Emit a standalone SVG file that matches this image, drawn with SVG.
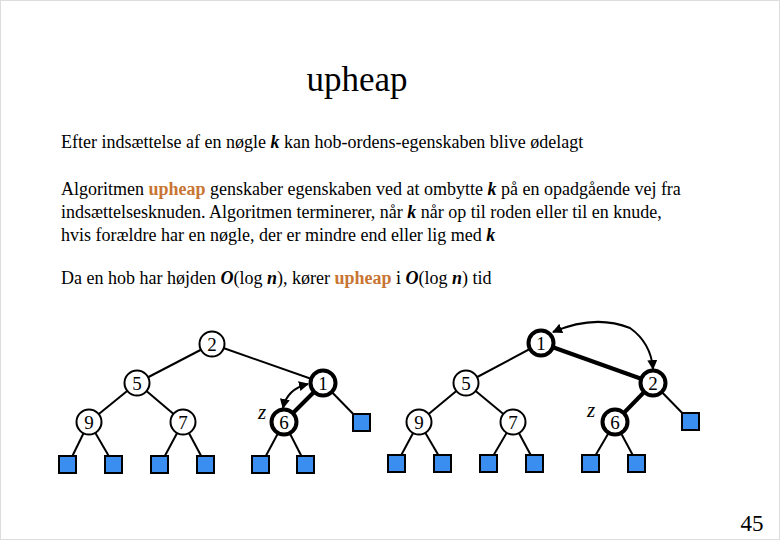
<svg xmlns="http://www.w3.org/2000/svg" width="780" height="540" viewBox="0 0 780 540">
<style>
text{font-family:"Liberation Serif","Times New Roman",serif;fill:#000}
.b{font-size:18px}
.o{fill:#c87533;font-weight:bold}
.k{font-weight:bold;font-style:italic}
.n circle{fill:#fff;stroke:#000;stroke-width:2}
.n.t circle{stroke-width:4}
.n text{font-size:19px;text-anchor:middle}
.lf{fill:#3a8ef0;stroke:#000;stroke-width:2}
.e{stroke:#000;stroke-width:2;fill:none}
.e.t{stroke-width:4}
.z{font-size:21px;font-style:italic}
</style>
<defs>
<marker id="ah" viewBox="0 0 10 10" refX="9" refY="5" markerWidth="5" markerHeight="5" orient="auto-start-reverse"><path d="M0,0 L10,5 L0,10 z" fill="#000"/></marker>
</defs>
<rect x="0.5" y="0.5" width="779" height="539" fill="#fff" stroke="#ddd"/>
<text x="357" y="91" font-size="35" text-anchor="middle">upheap</text>
<text class="b" x="61" y="148">Efter indsættelse af en nøgle <tspan class="k">k</tspan> kan hob-ordens-egenskaben blive ødelagt</text>
<text class="b" x="61" y="195">Algoritmen <tspan class="o">upheap</tspan> genskaber egenskaben ved at ombytte <tspan class="k">k</tspan> på en opadgående vej fra</text>
<text class="b" x="61" y="218">indsættelsesknuden. Algoritmen terminerer, når <tspan class="k">k</tspan> når op til roden eller til en knude,</text>
<text class="b" x="61" y="241">hvis forældre har en nøgle, der er mindre end eller lig med <tspan class="k">k</tspan></text>
<text class="b" x="61" y="284">Da en hob har højden <tspan class="k">O</tspan>(log <tspan class="k">n</tspan>), kører <tspan class="o">upheap</tspan> i <tspan class="k">O</tspan>(log <tspan class="k">n</tspan>) tid</text>
<text x="752" y="531" font-size="23" text-anchor="middle">45</text>

<g id="connectors">
<line class="e" x1="212" y1="344" x2="137" y2="383"/>
<line class="e" x1="212" y1="344" x2="323" y2="383"/>
<line class="e" x1="137" y1="383" x2="89" y2="422"/>
<line class="e" x1="137" y1="383" x2="183" y2="422"/>
<line class="e t" x1="323" y1="383" x2="284" y2="422"/>
<line class="e" x1="323" y1="383" x2="362" y2="423"/>
<line class="e" x1="89" y1="422" x2="68" y2="465"/>
<line class="e" x1="89" y1="422" x2="114" y2="465"/>
<line class="e" x1="183" y1="422" x2="160" y2="465"/>
<line class="e" x1="183" y1="422" x2="206" y2="465"/>
<line class="e" x1="284" y1="422" x2="261" y2="465"/>
<line class="e" x1="284" y1="422" x2="306" y2="465"/>
<path class="e" d="M308,384 Q287,389 283,408" marker-start="url(#ah)" marker-end="url(#ah)" stroke-width="1.5"/>

<line class="e" x1="541" y1="343" x2="466" y2="383"/>
<line class="e t" x1="541" y1="343" x2="653" y2="383"/>
<line class="e" x1="466" y1="383" x2="419" y2="422"/>
<line class="e" x1="466" y1="383" x2="513" y2="422"/>
<line class="e t" x1="653" y1="383" x2="615" y2="422"/>
<line class="e" x1="653" y1="383" x2="691" y2="422"/>
<line class="e" x1="419" y1="422" x2="397" y2="463"/>
<line class="e" x1="419" y1="422" x2="443" y2="463"/>
<line class="e" x1="513" y1="422" x2="489" y2="463"/>
<line class="e" x1="513" y1="422" x2="535" y2="463"/>
<line class="e" x1="615" y1="422" x2="591" y2="463"/>
<line class="e" x1="615" y1="422" x2="637" y2="463"/>
<path class="e" d="M553,332 Q595,314 630,328 Q651,343 653,369" marker-start="url(#ah)" marker-end="url(#ah)" stroke-width="1.5"/>
</g>

<g id="L2" class="n"><circle cx="212" cy="344" r="12.5"/><text x="212" y="350.5">2</text></g>
<g id="L5" class="n"><circle cx="137" cy="383" r="12.5"/><text x="137" y="389.5">5</text></g>
<g id="L1" class="n t"><circle cx="323" cy="383" r="12.5"/><text x="323" y="389.5">1</text></g>
<g id="L9" class="n"><circle cx="89" cy="422" r="12.5"/><text x="89" y="428.5">9</text></g>
<g id="L7" class="n"><circle cx="183" cy="422" r="12.5"/><text x="183" y="428.5">7</text></g>
<g id="L6" class="n t"><circle cx="284" cy="422" r="12.5"/><text x="284" y="428.5">6</text></g>
<text class="z" x="262" y="419" text-anchor="middle">z</text>
<g id="Lleaves">
<rect class="lf" x="59" y="456" width="17" height="17"/>
<rect class="lf" x="105" y="456" width="17" height="17"/>
<rect class="lf" x="151" y="456" width="17" height="17"/>
<rect class="lf" x="197" y="456" width="17" height="17"/>
<rect class="lf" x="252" y="456" width="17" height="17"/>
<rect class="lf" x="297" y="456" width="17" height="17"/>
<rect class="lf" x="353" y="414" width="17" height="17"/>
</g>

<g id="R1" class="n t"><circle cx="541" cy="343" r="12.5"/><text x="541" y="349.5">1</text></g>
<g id="R5" class="n"><circle cx="466" cy="383" r="12.5"/><text x="466" y="389.5">5</text></g>
<g id="R2" class="n t"><circle cx="653" cy="383" r="12.5"/><text x="653" y="389.5">2</text></g>
<g id="R9" class="n"><circle cx="419" cy="422" r="12.5"/><text x="419" y="428.5">9</text></g>
<g id="R7" class="n"><circle cx="513" cy="422" r="12.5"/><text x="513" y="428.5">7</text></g>
<g id="R6" class="n t"><circle cx="615" cy="422" r="12.5"/><text x="615" y="428.5">6</text></g>
<text class="z" x="591" y="417" text-anchor="middle">z</text>
<g id="Rleaves">
<rect class="lf" x="388" y="455" width="17" height="17"/>
<rect class="lf" x="434" y="455" width="17" height="17"/>
<rect class="lf" x="480" y="455" width="17" height="17"/>
<rect class="lf" x="526" y="455" width="17" height="17"/>
<rect class="lf" x="582" y="455" width="17" height="17"/>
<rect class="lf" x="628" y="455" width="17" height="17"/>
<rect class="lf" x="682" y="413" width="17" height="17"/>
</g>
</svg>
